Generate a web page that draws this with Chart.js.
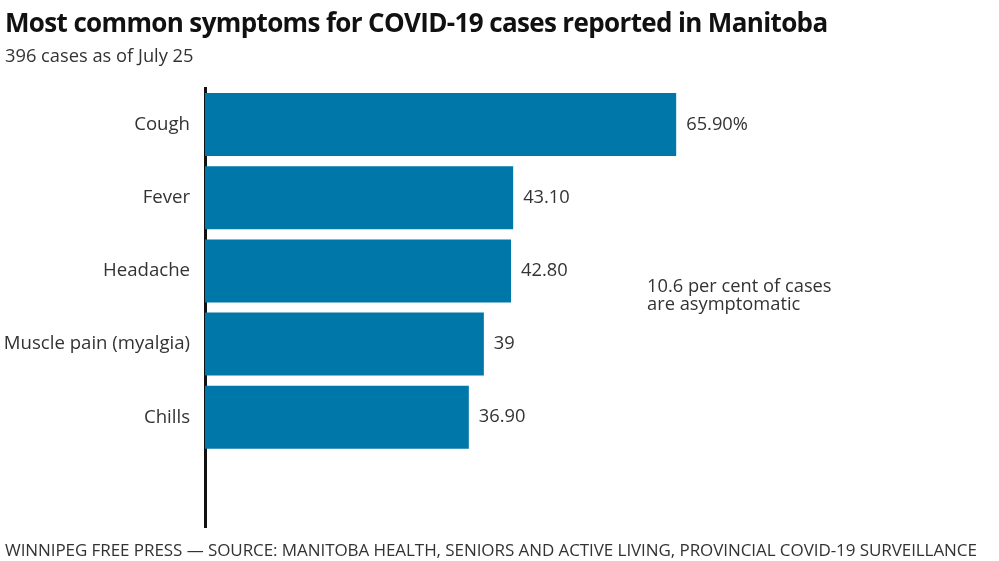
<!DOCTYPE html>
<html>
<head>
<meta charset="utf-8">
<script src="https://cdn.jsdelivr.net/npm/chart.js@4"></script>
<style>
html,body{margin:0;padding:0;background:#fff;}
#wrap{position:relative;width:999px;height:561px;}
</style>
</head>
<body>
<div id="wrap"><canvas id="c" width="999" height="561"></canvas></div>
<script>
const categories = ["Cough", "Fever", "Headache", "Muscle pain (myalgia)", "Chills", ""];
const values = [65.9, 43.1, 42.8, 39, 36.9, null];
const valueLabels = ["65.90%", "43.10", "42.80", "39", "36.90", ""];
const titleText = "Most common symptoms for COVID-19 cases reported in Manitoba";
const subtitleText = "396 cases as of July 25";
const noteLines = ["10.6 per cent of cases", "are asymptomatic"];
const footerText = "WINNIPEG FREE PRESS \u2014 SOURCE: MANITOBA HEALTH, SENIORS AND ACTIVE LIVING, PROVINCIAL COVID-19 SURVEILLANCE";

const FONT = "'Open Sans', 'DejaVu Sans', sans-serif";
const TEXT = "#333";

function fitText(ctx, text, x, y, width) {
  ctx.letterSpacing = '0px';
  const w = ctx.measureText(text).width;
  const ls = (width - w) / (text.length - 1);
  ctx.letterSpacing = ls.toFixed(2) + 'px';
  ctx.fillText(text, x, y);
  ctx.letterSpacing = '0px';
}

const textPlugin = {
  id: 'texts',
  afterDraw(chart) {
    const ctx = chart.ctx;
    ctx.save();
    ctx.textBaseline = 'alphabetic';
    ctx.textAlign = 'left';
    // title
    ctx.fillStyle = '#111';
    ctx.font = "bold 26px " + FONT;
    fitText(ctx, titleText, 5, 32, 823);
    // subtitle
    ctx.fillStyle = TEXT;
    ctx.font = "18.3px " + FONT;
    ctx.fillText(subtitleText, 5, 62);
    // footer
    ctx.font = "17px " + FONT;
    fitText(ctx, footerText, 5, 556, 972);
    // value labels
    const meta = chart.getDatasetMeta(0);
    ctx.font = "18.3px " + FONT;
    ctx.textBaseline = 'middle';
    meta.data.forEach((bar, i) => {
      if (values[i] == null) return;
      ctx.fillText(valueLabels[i], bar.x + 10, bar.y);
    });
    // note
    ctx.textBaseline = 'alphabetic';
    ctx.fillText(noteLines[0], 647, 292);
    ctx.fillText(noteLines[1], 647, 310);
    ctx.restore();
  }
};

new Chart(document.getElementById('c'), {
  type: 'bar',
  data: {
    labels: categories,
    datasets: [{
      data: values,
      backgroundColor: '#0077a9',
      borderWidth: 0,
      categoryPercentage: 1,
      barPercentage: 0.86
    }]
  },
  options: {
    indexAxis: 'y',
    responsive: false,
    animation: false,
    devicePixelRatio: 1,
    layout: { padding: { left: 0, right: 79, top: 88, bottom: 34 } },
    plugins: { legend: { display: false }, tooltip: { enabled: false }, title: { display: false } },
    scales: {
      x: {
        display: false,
        min: 0, max: 100
      },
      y: {
        afterFit(scale) { scale.width = 205; },
        grid: { display: false, drawTicks: false },
        border: { display: true, color: '#111', width: 3 },
        ticks: {
          padding: 15,
          color: TEXT,
          font: { family: FONT, size: 18.6 }
        }
      }
    }
  },
  plugins: [textPlugin]
});
</script>
</body>
</html>
